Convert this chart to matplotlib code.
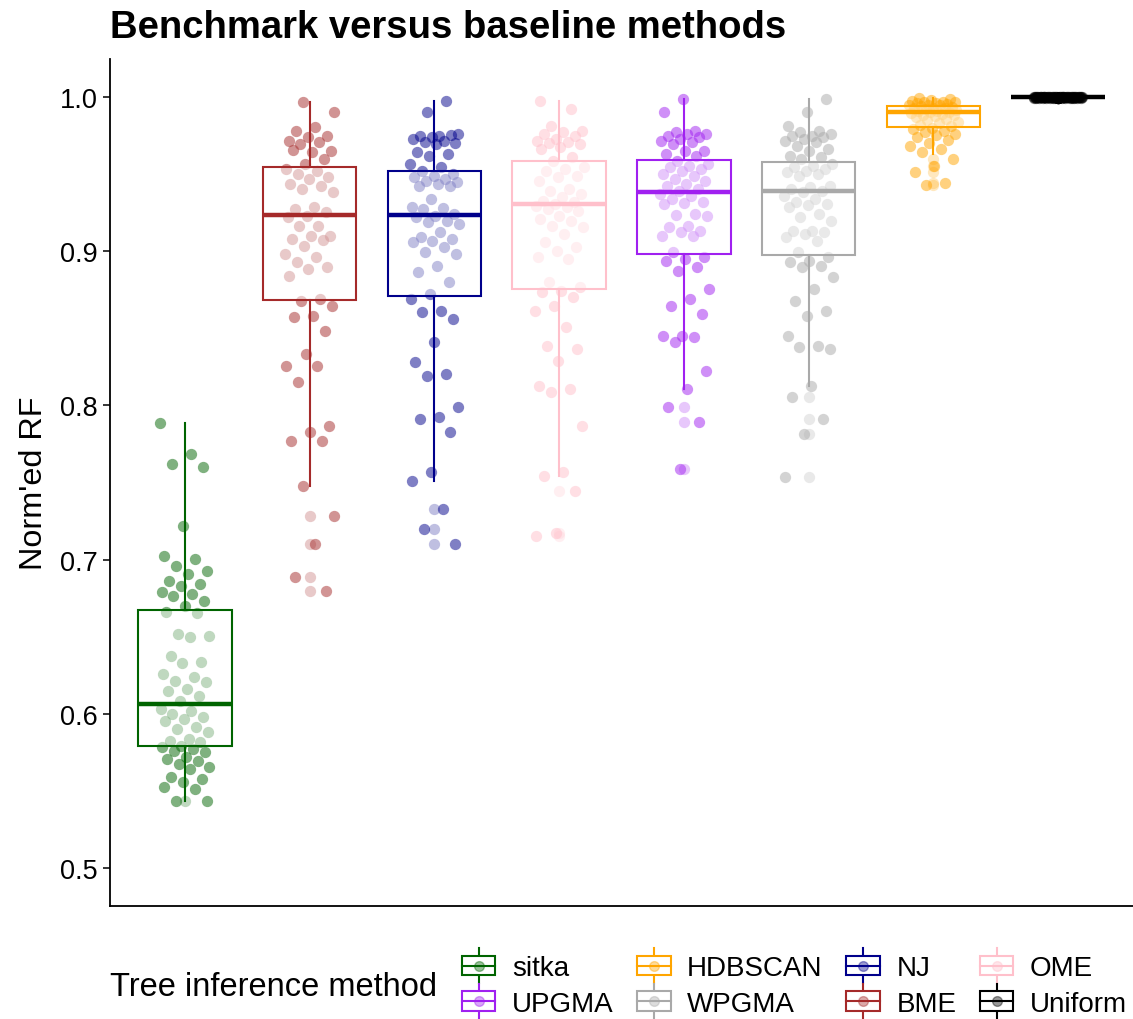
import numpy as np
import matplotlib
matplotlib.use("Agg")
from matplotlib import pyplot as plt
from matplotlib.legend_handler import HandlerBase
from matplotlib.lines import Line2D
from matplotlib.patches import Rectangle

plt.rcParams["font.family"] = ["Liberation Sans", "DejaVu Sans"]

# methods in plotting order, with their colours
methods = ["sitka", "BME", "NJ", "OME", "UPGMA", "WPGMA", "HDBSCAN", "Uniform"]
colors = ["#006400", "#A52A2A", "#00008B", "#FFC0CB", "#A020F0", "#A9A9A9", "#FFA500", "#000000"]
legend_order = ["sitka", "UPGMA", "HDBSCAN", "WPGMA", "NJ", "BME", "OME", "Uniform"]

# normalised RF per run
sitka = [0.7886, 0.7685, 0.7620, 0.7598, 0.7220, 0.7026, 0.7004, 0.6961, 0.6928, 0.6907,
         0.6863, 0.6842, 0.6831, 0.6788, 0.6777, 0.6766, 0.6734, 0.6701, 0.6658, 0.6655,
         0.6518, 0.6507, 0.6496, 0.6377, 0.6334, 0.6331, 0.6258, 0.6237, 0.6215, 0.6204,
         0.6161, 0.6150, 0.6118, 0.6085, 0.6031, 0.6020, 0.5999, 0.5977, 0.5966, 0.5956,
         0.5912, 0.5901, 0.5880, 0.5837, 0.5826, 0.5815, 0.5793, 0.5782, 0.5772, 0.5761,
         0.5750, 0.5718, 0.5707, 0.5696, 0.5675, 0.5653, 0.5642, 0.5588, 0.5577, 0.5555,
         0.5523, 0.5512, 0.5437, 0.5434]
bme = [0.9965, 0.9901, 0.9803, 0.9782, 0.9749, 0.9739, 0.9717, 0.9706, 0.9695, 0.9652,
       0.9641, 0.9655, 0.9598, 0.9565, 0.9533, 0.9522, 0.9500, 0.9479, 0.9468, 0.9436,
       0.9425, 0.9403, 0.9382, 0.9285, 0.9274, 0.9252, 0.9230, 0.9220, 0.9166, 0.9160,
       0.9101, 0.9095, 0.9079, 0.9075, 0.9036, 0.8982, 0.8960, 0.8928, 0.8895, 0.8885,
       0.8841, 0.8690, 0.8679, 0.8647, 0.8582, 0.8571, 0.8485, 0.8333, 0.8258, 0.8255,
       0.8150, 0.7868, 0.7825, 0.7771, 0.7770, 0.7480, 0.7285, 0.7101, 0.6885, 0.6799]
nj = [0.9976, 0.9901, 0.9760, 0.9749, 0.9745, 0.9752, 0.9739, 0.9728, 0.9717, 0.9706,
      0.9702, 0.9695, 0.9641, 0.9630, 0.9620, 0.9565, 0.9544, 0.9522, 0.9500, 0.9490,
      0.9479, 0.9468, 0.9457, 0.9447, 0.9436, 0.9425, 0.9422, 0.9338, 0.9285, 0.9281,
      0.9274, 0.9241, 0.9230, 0.9220, 0.9198, 0.9187, 0.9176, 0.9122, 0.9090, 0.9079,
      0.9068, 0.9057, 0.9025, 0.8993, 0.8982, 0.8906, 0.8863, 0.8798, 0.8722, 0.8690,
      0.8614, 0.8604, 0.8560, 0.8409, 0.8279, 0.8204, 0.8193, 0.7988, 0.7923, 0.7912,
      0.7825, 0.7566, 0.7512, 0.7328, 0.7198, 0.7101]
ome = [0.9976, 0.9922, 0.9814, 0.9782, 0.9771, 0.9760, 0.9749, 0.9728, 0.9717, 0.9706,
       0.9703, 0.9695, 0.9674, 0.9663, 0.9609, 0.9587, 0.9544, 0.9533, 0.9522, 0.9490,
       0.9479, 0.9457, 0.9403, 0.9393, 0.9371, 0.9349, 0.9328, 0.9317, 0.9306, 0.9295,
       0.9285, 0.9274, 0.9263, 0.9230, 0.9209, 0.9198, 0.9166, 0.9155, 0.9112, 0.9058,
       0.9025, 0.9003, 0.8960, 0.8950, 0.8798, 0.8766, 0.8744, 0.8733, 0.8701, 0.8647,
       0.8614, 0.8506, 0.8387, 0.8366, 0.8290, 0.8128, 0.8106, 0.8085, 0.7868, 0.7566,
       0.7545, 0.7447, 0.7175, 0.7155]
upgma = [0.9987, 0.9901, 0.9782, 0.9771, 0.9760, 0.9757, 0.9749, 0.9739, 0.9728, 0.9717,
         0.9706, 0.9695, 0.9652, 0.9648, 0.9630, 0.9620, 0.9587, 0.9565, 0.9555, 0.9544,
         0.9533, 0.9522, 0.9500, 0.9490, 0.9468, 0.9457, 0.9436, 0.9425, 0.9403, 0.9393,
         0.9371, 0.9360, 0.9338, 0.9317, 0.9313, 0.9306, 0.9241, 0.9237, 0.9230, 0.9166,
         0.9155, 0.9133, 0.9122, 0.9101, 0.9097, 0.8993, 0.8960, 0.8950, 0.8939, 0.8895,
         0.8874, 0.8755, 0.8690, 0.8647, 0.8593, 0.8452, 0.8449, 0.8442, 0.8409, 0.8225,
         0.8106, 0.7987, 0.7890, 0.7588]
wpgma = [0.9987, 0.9901, 0.9814, 0.9782, 0.9771, 0.9760, 0.9749, 0.9745, 0.9739, 0.9728,
         0.9717, 0.9706, 0.9684, 0.9663, 0.9652, 0.9620, 0.9609, 0.9598, 0.9565, 0.9555,
         0.9544, 0.9533, 0.9522, 0.9511, 0.9500, 0.9490, 0.9425, 0.9414, 0.9403, 0.9393,
         0.9382, 0.9360, 0.9338, 0.9317, 0.9306, 0.9302, 0.9285, 0.9241, 0.9220, 0.9198,
         0.9133, 0.9130, 0.9122, 0.9112, 0.9090, 0.9068, 0.8993, 0.8960, 0.8939, 0.8928,
         0.8906, 0.8895, 0.8831, 0.8755, 0.8679, 0.8614, 0.8582, 0.8452, 0.8387, 0.8377,
         0.8366, 0.8128, 0.8052, 0.7912, 0.7814, 0.7533]
hdbscan = [0.9990, 0.9985, 0.9980, 0.9975, 0.9970, 0.9970, 0.9965, 0.9960, 0.9960, 0.9955,
           0.9950, 0.9950, 0.9945, 0.9940, 0.9935, 0.9930, 0.9930, 0.9925, 0.9920, 0.9915,
           0.9910, 0.9910, 0.9905, 0.9900, 0.9895, 0.9890, 0.9885, 0.9880, 0.9875, 0.9870,
           0.9860, 0.9850, 0.9840, 0.9830, 0.9820, 0.9810, 0.9800, 0.9790, 0.9780, 0.9770,
           0.9760, 0.9750, 0.9740, 0.9720, 0.9700, 0.9680, 0.9660, 0.9640, 0.9600, 0.9550,
           0.9510, 0.9440, 0.9430]
uniform = [1.0000] * 44 + [0.9996] * 10 + [0.9992] * 6

values = [sitka, bme, nj, ome, upgma, wpgma, hdbscan, uniform]

# box summaries: lower whisker, Q1, median, Q3, upper whisker
whis_lo = [0.5435, 0.7480, 0.7512, 0.7545, 0.8106, 0.8128, 0.9630, 1.0000]
q1 = [0.5790, 0.8684, 0.8710, 0.8755, 0.8980, 0.8975, 0.9808, 1.0000]
median = [0.6064, 0.9235, 0.9235, 0.9306, 0.9385, 0.9390, 0.9900, 1.0000]
q3 = [0.6670, 0.9546, 0.9520, 0.9585, 0.9590, 0.9580, 0.9944, 1.0000]
whis_hi = [0.7886, 0.9965, 0.9976, 0.9976, 0.9987, 0.9987, 0.9990, 1.0000]

fig = plt.figure(figsize=(11.33, 10.2), dpi=100)
ax = fig.add_axes([0.0971, 0.1108, 0.9029, 0.8304])

golden = 0.6180339887
for k, (vals, col) in enumerate(zip(values, colors)):
    pos = k + 1
    vals = np.asarray(vals)
    # deterministic horizontal spread of the runs
    idx = np.arange(len(vals))
    dx = 0.2 * (2 * ((idx * golden + k * 0.37) % 1.0) - 1)
    ax.scatter(pos + dx, vals, s=66, color=col, alpha=0.5, linewidths=0, zorder=2)

    stats = [dict(med=median[k], q1=q1[k], q3=q3[k], whislo=whis_lo[k], whishi=whis_hi[k])]
    ax.bxp(stats, positions=[pos], widths=0.75, patch_artist=True, showfliers=False,
           showcaps=False,
           boxprops=dict(facecolor=(1, 1, 1, 0.5), edgecolor=col, linewidth=1.5),
           medianprops=dict(color=col, linewidth=3.2, solid_capstyle="butt"),
           whiskerprops=dict(color=col, linewidth=1.5),
           zorder=3)

    fl = vals[(vals < whis_lo[k]) | (vals > whis_hi[k])]
    ax.scatter(np.full(len(fl), pos), fl, s=66, color=col, alpha=0.25, linewidths=0, zorder=4)

ax.set_xlim(0.4, 8.6)
ax.set_ylim(0.4754, 1.0246)
ax.set_xticks([])
ax.set_yticks([0.5, 0.6, 0.7, 0.8, 0.9, 1.0])
ax.set_yticklabels(["0.5", "0.6", "0.7", "0.8", "0.9", "1.0"])
ax.tick_params(axis="y", labelsize=19.5, length=5, width=1.1, colors="black", pad=4)
ax.spines["top"].set_visible(False)
ax.spines["right"].set_visible(False)
ax.spines["left"].set_linewidth(1.3)
ax.spines["bottom"].set_linewidth(1.3)
ax.set_ylabel("Norm'ed RF", fontsize=23.3, labelpad=8)
ax.set_title("Benchmark versus baseline methods", fontsize=27.5, fontweight="bold",
             loc="left", pad=16)


class BoxKey(HandlerBase):
    """Legend glyph: a small box with whiskers and a faded dot."""

    def create_artists(self, legend, orig_handle, xdescent, ydescent, width, height,
                       fontsize, trans):
        col = orig_handle.get_color()
        cx = width / 2 - xdescent
        cy = height / 2 - ydescent
        bw = width
        bh = height * 0.8
        whisk = Line2D([cx, cx], [cy - height * 0.7, cy + height * 0.7], color=col,
                       lw=1.5, transform=trans)
        box = Rectangle((cx - bw / 2, cy - bh / 2), bw, bh, facecolor="white",
                        edgecolor=col, lw=1.5, transform=trans)
        dot = Line2D([cx], [cy], marker="o", markersize=7, color=col, alpha=0.4,
                     linestyle="none", transform=trans)
        med = Line2D([cx - bw / 2, cx + bw / 2], [cy, cy], color=col, lw=1.5,
                     transform=trans)
        return [whisk, box, dot, med]


handles = [Line2D([], [], color=colors[methods.index(m)]) for m in legend_order]
fig.legend(handles, legend_order, handler_map={Line2D: BoxKey()}, ncol=4,
           loc="center left", bbox_to_anchor=(0.3955, 0.0334), frameon=False,
           fontsize=20, handlelength=1.2, handleheight=1.0, handletextpad=0.6,
           columnspacing=0.85, labelspacing=0.28, borderpad=0)
fig.text(0.097, 0.0314, "Tree inference method", fontsize=23.5, va="center", ha="left")

fig.savefig("out.png", dpi=100)
